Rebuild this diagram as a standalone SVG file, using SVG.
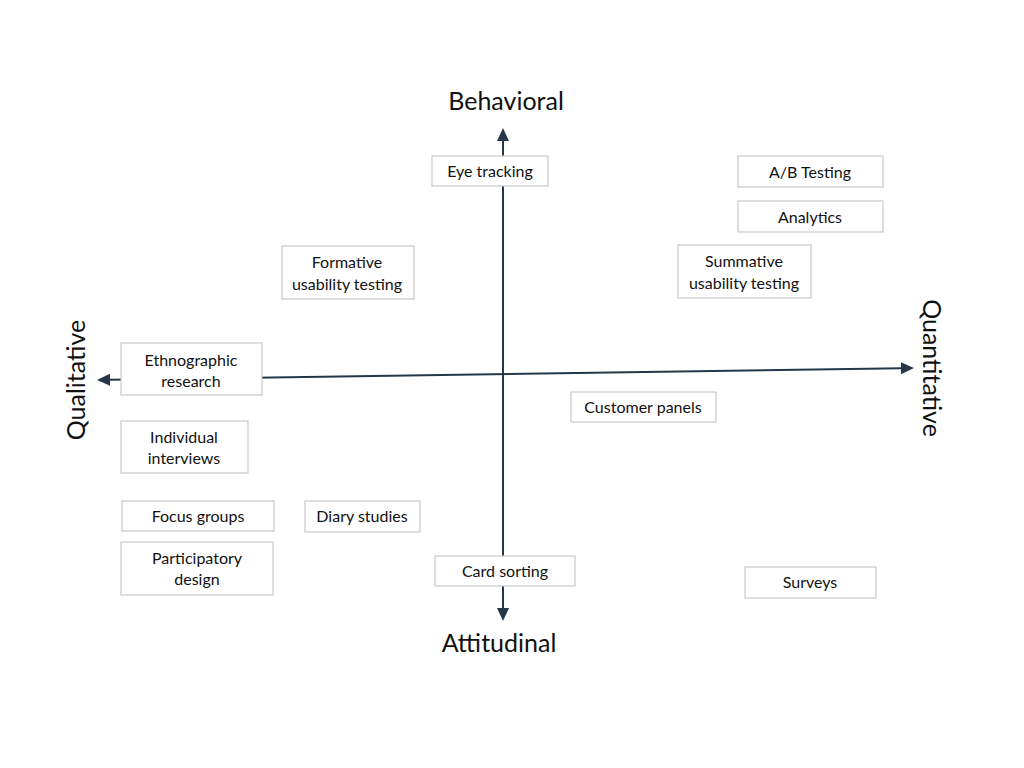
<svg xmlns="http://www.w3.org/2000/svg" width="1024" height="768" viewBox="0 0 1024 768">
<defs>
<marker id="arr" markerWidth="14" markerHeight="12" refX="1" refY="6" orient="auto-start-reverse" markerUnits="userSpaceOnUse">
<path d="M0,0 L13,6 L0,12 Z" fill="#253746"/>
</marker>
<style>
.box{fill:#fff;stroke:#c8c8c8;stroke-width:1.2}
.t{font-family:Lato,"Open Sans","Liberation Sans",sans-serif;font-size:16px;fill:#111;text-anchor:middle}
.ax{font-family:Lato,"Open Sans","Liberation Sans",sans-serif;font-size:25px;fill:#111;text-anchor:middle}
.axis{stroke:#253746;stroke-width:2;fill:none}
</style>
</defs>
<rect width="1024" height="768" fill="#fff"/>
<g id="connectors">
<line class="axis" x1="503" y1="140" x2="503" y2="609" marker-start="url(#arr)" marker-end="url(#arr)"/>
<line class="axis" x1="109" y1="379.8" x2="902" y2="368.2" marker-start="url(#arr)" marker-end="url(#arr)"/>
</g>
<g id="axis-labels">
<text class="ax" x="506" y="110">Behavioral</text>
<text class="ax" x="499" y="652">Attitudinal</text>
<text class="ax" transform="translate(85,380) rotate(-90)">Qualitative</text>
<text class="ax" transform="translate(923,368) rotate(90)">Quantitative</text>
</g>
<g id="eye-tracking"><rect class="box" x="432" y="156" width="116" height="30"/><text class="t" x="490" y="177">Eye tracking</text></g>
<g id="ab-testing"><rect class="box" x="738" y="156" width="145" height="31"/><text class="t" x="810" y="178">A/B Testing</text></g>
<g id="analytics"><rect class="box" x="738" y="201" width="145" height="31"/><text class="t" x="810" y="223">Analytics</text></g>
<g id="formative"><rect class="box" x="282" y="246" width="132" height="53"/><text class="t" x="347" y="268">Formative</text><text class="t" x="347" y="290">usability testing</text></g>
<g id="summative"><rect class="box" x="678" y="245" width="133" height="53"/><text class="t" x="744" y="267">Summative</text><text class="t" x="744" y="289">usability testing</text></g>
<g id="ethnographic"><rect class="box" x="121" y="343" width="141" height="52"/><text class="t" x="191" y="366">Ethnographic</text><text class="t" x="191" y="387">research</text></g>
<g id="customer-panels"><rect class="box" x="571" y="392" width="145" height="30"/><text class="t" x="643" y="413">Customer panels</text></g>
<g id="individual-interviews"><rect class="box" x="121" y="421" width="127" height="52"/><text class="t" x="184" y="443">Individual</text><text class="t" x="184" y="464">interviews</text></g>
<g id="focus-groups"><rect class="box" x="122" y="501" width="152" height="30"/><text class="t" x="198" y="522">Focus groups</text></g>
<g id="diary-studies"><rect class="box" x="305" y="501" width="115" height="31"/><text class="t" x="362" y="522">Diary studies</text></g>
<g id="participatory-design"><rect class="box" x="121" y="542" width="152" height="53"/><text class="t" x="197" y="564">Participatory</text><text class="t" x="197" y="585">design</text></g>
<g id="card-sorting"><rect class="box" x="435" y="556" width="140" height="30"/><text class="t" x="505" y="577">Card sorting</text></g>
<g id="surveys"><rect class="box" x="745" y="567" width="131" height="31"/><text class="t" x="810" y="588">Surveys</text></g>
</svg>
